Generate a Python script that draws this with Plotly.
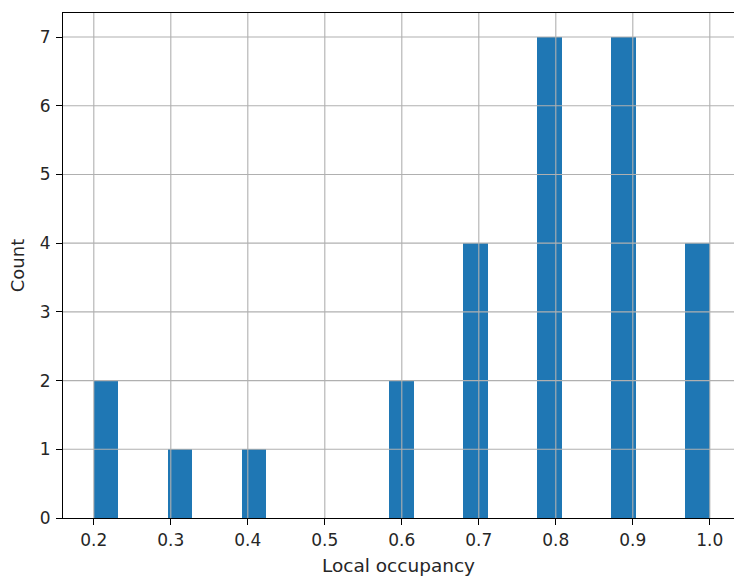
import numpy as np
import plotly.graph_objects as go

# local occupancy values
occupancy = [0.2] * 2 + [0.3] * 1 + [0.4] * 1 + [0.6] * 2 + [0.7] * 4 + [0.8] * 7 + [0.9] * 7 + [1.0] * 4
n_bins = 25
x_ticks = [0.2, 0.3, 0.4, 0.5, 0.6, 0.7, 0.8, 0.9, 1.0]
x_tick_text = ["0.2", "0.3", "0.4", "0.5", "0.6", "0.7", "0.8", "0.9", "1.0"]
y_ticks = [0, 1, 2, 3, 4, 5, 6, 7]

counts, edges = np.histogram(occupancy, bins=n_bins, range=(min(occupancy), max(occupancy)))
width = edges[1] - edges[0]

font = "DejaVu Sans, Arial, sans-serif"
grid = "#b0b0b0"

fig = go.Figure()
fig.add_trace(go.Bar(
    x=edges[:-1], y=counts, width=width, offset=0,
    marker=dict(color="#1f77b4", line=dict(width=0)),
))

# matplotlib draws the grid on top of the bars
shapes = []
for t in x_ticks:
    shapes.append(dict(type="line", xref="x", yref="paper", x0=t, x1=t, y0=0, y1=1,
                       line=dict(color=grid, width=1.1), layer="above"))
for t in y_ticks[1:]:
    shapes.append(dict(type="line", xref="paper", yref="y", x0=0, x1=1, y0=t, y1=t,
                       line=dict(color=grid, width=1.1), layer="above"))

fig.update_layout(
    width=734, height=580,
    margin=dict(l=63, r=0, t=13, b=62),
    plot_bgcolor="white", paper_bgcolor="white",
    font=dict(family=font, size=17, color="#262626"),
    showlegend=False,
    bargap=0,
    shapes=shapes,
    xaxis=dict(
        range=[0.16, 0.16 + 671 / 770],
        tickvals=x_ticks, ticktext=x_tick_text,
        showgrid=False, zeroline=False, automargin=False,
        showline=True, linecolor="black", linewidth=1.2, mirror=True,
        ticks="outside", ticklen=6, tickcolor="black", tickwidth=1.2,
        ticklabelstandoff=0,
        title=dict(text="Local occupancy", standoff=10, font=dict(size=18.5)),
        layer="above traces",
    ),
    yaxis=dict(
        range=[0, 7.35],
        tickvals=y_ticks,
        showgrid=False, zeroline=False, automargin=False,
        showline=True, linecolor="black", linewidth=1.2,
        ticks="outside", ticklen=6, tickcolor="black", tickwidth=1.2,
        ticklabelstandoff=2,
        title=dict(text="Count", standoff=10, font=dict(size=18)),
        layer="above traces",
    ),
)

fig.write_html("out.html", config={"displayModeBar": False},
               post_script="document.body.style.margin='0';")
